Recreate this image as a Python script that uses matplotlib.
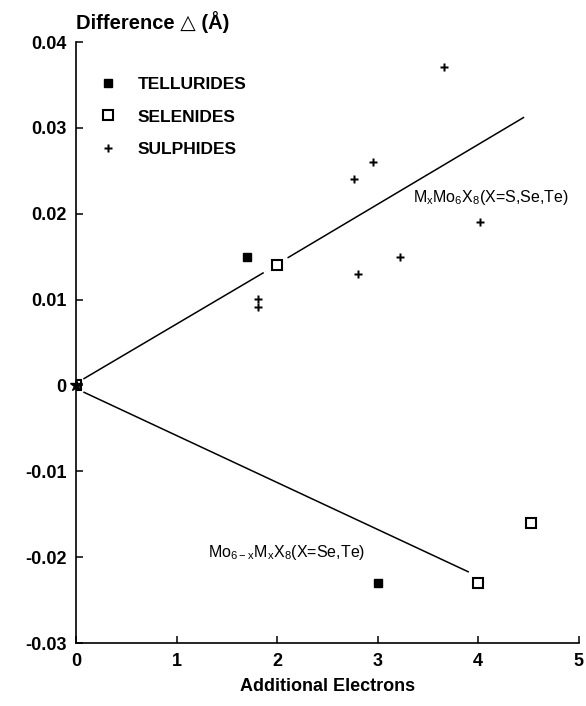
import matplotlib.pyplot as plt

plt.rcParams['font.family'] = ['Liberation Sans', 'DejaVu Sans']
plt.rcParams['font.weight'] = 'bold'
plt.rcParams['mathtext.default'] = 'regular'

# data
tell_x = [0.0, 1.7, 3.0]
tell_y = [0.0, 0.015, -0.023]
sel_x = [0.0, 2.0, 4.0, 4.52]
sel_y = [0.0, 0.014, -0.023, -0.016]
sulph_x = [0.0, 1.81, 1.81, 2.8, 2.76, 2.95, 3.22, 3.66, 4.02]
sulph_y = [0.0, 0.0101, 0.0091, 0.013, 0.0241, 0.026, 0.015, 0.0371, 0.019]

# fitted lines (upper one broken round the selenide point at x=2)
up_x = [0.08, 1.86, 2.11, 4.45]
up_y = [0.0008, 0.0131, 0.0149, 0.0312]
low_x = [0.08, 3.9]
low_y = [-0.0008, -0.0217]

yticks = [-0.03, -0.02, -0.01, 0.0, 0.01, 0.02, 0.03, 0.04]
ylabels = ['-0.03', '-0.02', '-0.01', '0', '0.01', '0.02', '0.03', '0.04']
xticks = [0, 1, 2, 3, 4, 5]

fig = plt.figure(figsize=(5.86, 7.06), dpi=100)
ax = fig.add_axes([0.1297, 0.0892, 0.858, 0.8513])

ax.plot(up_x[:2], up_y[:2], color='black', lw=1.1)
ax.plot(up_x[2:], up_y[2:], color='black', lw=1.1)
ax.plot(low_x, low_y, color='black', lw=1.1)

ax.plot(tell_x, tell_y, ls='none', marker='s', ms=5.5, mfc='black', mec='black',
        label='TELLURIDES')
ax.plot(sel_x, sel_y, ls='none', marker='s', ms=6.5, mfc='white', mec='black',
        mew=1.5, label='SELENIDES')
ax.plot(sulph_x, sulph_y, ls='none', marker='P', ms=6, mfc='black', mec='none',
        label='SULPHIDES')
# origin drawn as a star over the other markers
ax.plot([0], [0], ls='none', marker='*', ms=9, color='black', clip_on=False, zorder=5)

ax.text(3.35, 0.0219, 'M$_x$Mo$_6$X$_8$(X=S,Se,Te)', fontsize=11.5,
        fontweight='normal', va='center')
ax.text(1.31, -0.0194, 'Mo$_{6-x}$M$_x$X$_8$(X=Se,Te)', fontsize=11.5,
        fontweight='normal', va='center')

ax.set_xlim(0, 5)
ax.set_ylim(-0.03, 0.04)
ax.set_xticks(xticks)
ax.set_yticks(yticks)
ax.set_yticklabels(ylabels)
ax.tick_params(direction='in', length=5, width=1.1, labelsize=13, pad=7)

ax.spines['top'].set_visible(False)
ax.spines['right'].set_visible(False)
ax.spines['left'].set_linewidth(1.2)
ax.spines['bottom'].set_linewidth(1.2)

ax.set_xlabel('Additional Electrons', fontsize=13, fontweight='bold', labelpad=6)
fig.text(0.1297, 0.969, 'Difference \u25b3 (\u00c5)', fontsize=14.5,
         va='center', ha='left')

leg = ax.legend(loc='upper left', bbox_to_anchor=(0.015, 0.968), frameon=False,
                handlelength=1.0, handletextpad=1.2, labelspacing=1.0,
                prop={'weight': 'bold', 'size': 12.5})

fig.savefig('out.png', dpi=100)
